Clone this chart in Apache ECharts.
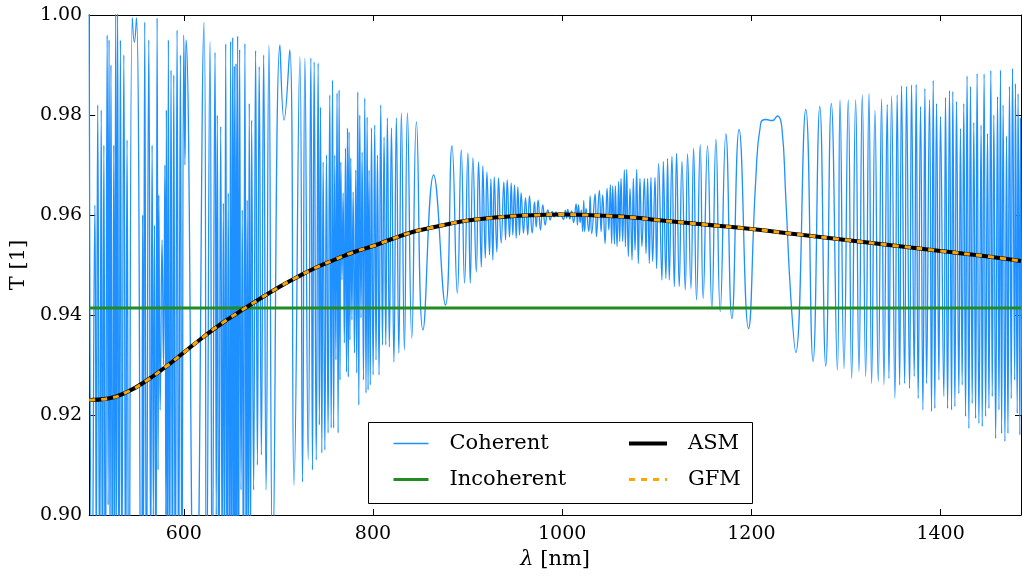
<!DOCTYPE html>
<html><head><meta charset="utf-8">
<script src="https://cdn.jsdelivr.net/npm/echarts@6/dist/echarts.min.js"></script>
<style>html,body{margin:0;padding:0;background:#fff}#c{width:1022px;height:581px}</style>
</head><body><div id="c"></div>
<script>
// ---- data ----
const xTicks = [600, 800, 1000, 1200, 1400];
const yTicks = [0.90, 0.92, 0.94, 0.96, 0.98, 1.00];

const asmWavelength = [500,520,540,560,580,600,620,640,660,680,700,720,740,760,780,800,820,840,860,880,900,925,950,975,1000,1025,1050,1075,1100,1150,1200,1250,1300,1350,1400,1450,1485];
const asmT = [0.9230,0.9233,0.9246,0.9268,0.9295,0.9325,0.9355,0.9383,0.9408,0.9432,0.9455,0.9476,0.9495,0.9511,0.9526,0.9538,0.9552,0.9565,0.9574,0.9582,0.9589,0.9594,0.9598,0.9600,0.9601,0.9600,0.9598,0.9595,0.9590,0.9581,0.9572,0.9561,0.9550,0.9539,0.9528,0.9517,0.9508];
const gfmWavelength = asmWavelength;
const gfmT = [0.9230,0.9233,0.9246,0.9268,0.9295,0.9325,0.9355,0.9383,0.9408,0.9432,0.9455,0.9476,0.9495,0.9511,0.9526,0.9538,0.9552,0.9565,0.9574,0.9582,0.9589,0.9594,0.9598,0.9600,0.9601,0.9600,0.9598,0.9595,0.9590,0.9581,0.9572,0.9561,0.9550,0.9539,0.9528,0.9517,0.9508];
const incoherentWavelength = [500, 1485];
const incoherentT = [0.9414, 0.9414];

// Coherent: local extrema [wavelength nm, T]
const coherent500to710 = [
[500,1.003],[503,0.880],[506,0.962],[507.5,0.890],[509,0.982],[511,0.885],[512.7,0.981],[514,0.880],[515.5,0.974],[517,0.875],
[519,0.996],[520,0.902],[521,0.995],[522,0.890],[523,0.990],[524.5,0.880],[526,0.974],[527,0.880],[528,1.002],[529,0.895],
[530,1.002],[531.5,0.880],[533,0.995],[534.5,0.885],[536.6,0.992],[538.5,0.880],[540,0.975],[542,0.870],[545.5,0.9994],[547.7,0.9946],
[550,0.9994],[555,0.870],[556.5,0.960],[557.3,0.890],[558.7,0.9986],[560.5,0.880],[563,0.995],[565,0.890],[566.5,0.974],[567.8,0.900],
[569,0.958],[570.5,0.880],[571.8,0.9994],[572.8,0.909],[573.6,0.964],[575,0.921],[577,0.955],[578.5,0.930],[580,0.970],[581,0.900],
[581.6,0.981],[582.7,0.880],[583.7,0.995],[585,0.880],[586.5,0.989],[588,0.880],[589.4,0.988],[591,0.880],[592.9,0.997],[594.5,0.880],
[596.4,0.992],[598,0.880],[600,0.996],[601.2,0.970],[602.4,0.995],[612,0.860],[621.4,0.9985],[624,0.880],[627.7,0.9947],[630,0.880],
[633,0.9925],[634.3,0.900],[635.4,0.980],[637,0.880],[639,0.9777],[640.5,0.890],[641.8,0.9624],[643,0.880],[644.3,0.9942],[645.7,0.880],
[647,0.9644],[648.3,0.870],[649.5,0.9947],[650.5,0.880],[651.7,0.9955],[652.6,0.870],[653.4,0.9898],[654.3,0.880],[655.2,0.9903],[656,0.870],
[656.9,0.9958],[658,0.880],[659,0.9931],[660.5,0.905],[661.8,0.961],[663,0.880],[664.6,0.9943],[666,0.880],[667,0.963],[668.2,0.890],
[669.2,0.9823],[670.5,0.890],[671.7,0.979],[673.8,0.905],[675.9,0.9929],[677.8,0.910],[679.7,0.9897],[682,0.912],[684.4,0.992],[687,0.905],
[690,0.994],[694,0.890],[701.6,0.994],[706,0.979],[712,0.993]
];
const coherent710to1000 = [
[716.5,0.906],[722.7,0.9916],[725.5,0.9066],[728,0.9914],[731.5,0.911],[734.3,0.9914],[736,0.909],[737.8,0.9906],[740,0.911],[742,0.9904],
[743.3,0.918],[744.5,0.9816],[745.9,0.9124],[747.3,0.9706],[749.1,0.913],[750.8,0.972],[752.5,0.9164],[754.3,0.984],[755.8,0.9174],[757.2,0.987],
[758.4,0.9174],[759.6,0.972],[760.8,0.931],[762,0.9844],[763.1,0.9164],[764.2,0.985],[765.1,0.927],[766,0.9706],[767.2,0.947],[768.4,0.9644],
[769.7,0.9344],[770.9,0.9734],[772,0.9286],[773,0.9774],[773.9,0.9276],[774.7,0.9766],[775.6,0.935],[776.5,0.9714],[777.7,0.939],[779,0.9646],
[780.4,0.9324],[781.8,0.969],[782.8,0.9284],[783.9,0.9846],[785,0.922],[786,0.980],[787.3,0.9394],[788.5,0.9726],[789.9,0.927],[791.3,0.9834],
[792.6,0.9244],[793.8,0.9796],[794.8,0.925],[795.8,0.969],[797.1,0.926],[798.4,0.9774],[800.1,0.928],[801.8,0.978],[803.2,0.931],[804.7,0.972],
[806.4,0.928],[808.2,0.982],[810,0.934],[811.7,0.9756],[813.5,0.934],[815.2,0.9794],[817.3,0.9336],[819.5,0.9774],[822.1,0.9306],[824.7,0.9794],
[827.3,0.9324],[830,0.9804],[833.2,0.933],[836.4,0.9804],[841,0.9354],[845.9,0.9786],[852.8,0.937],[864.1,0.968],[876.6,0.942],[883.5,0.9738],
[889.1,0.9444],[893.3,0.973],[896.8,0.9464],[900.3,0.9724],[902.8,0.9464],[905.6,0.9714],[909.2,0.9486],[911.6,0.9706],[914.5,0.9496],[916.1,0.9698],
[918.7,0.9514],[920.4,0.9686],[923.2,0.952],[924.6,0.9672],[926.7,0.951],[928.2,0.9676],[930.9,0.9526],[932.7,0.9674],[935.5,0.9544],[938.3,0.9666],
[940.1,0.955],[941.9,0.967],[944.3,0.9556],[946.1,0.9664],[947.8,0.956],[949.6,0.966],[951.4,0.9554],[953.1,0.9656],[954.9,0.956],[956.6,0.9644],
[959.1,0.9564],[961.2,0.9634],[963.6,0.956],[965.4,0.9638],[968.3,0.9564],[970.7,0.9626],[972.5,0.9576],[974.6,0.963],[977,0.957],[979.5,0.962],
[982,0.958],[984.8,0.961],[987.3,0.959],[989.5,0.9607],[991.5,0.9596],[993.5,0.9606],[995.5,0.9597],[997.5,0.9604],[999.5,0.9598]
];
const coherent1000to1200 = [
[1001.3,0.9591],[1003.4,0.9609],[1004.8,0.9594],[1005.9,0.9611],[1008,0.9592],[1010,0.9608],[1012,0.9585],[1014.7,0.9622],[1016.1,0.958],[1017.2,0.962],
[1019,0.9585],[1020.2,0.961],[1021.7,0.9567],[1022.8,0.9629],[1023.8,0.9567],[1025.2,0.9613],[1028.1,0.9567],[1029.5,0.9638],[1031.2,0.9563],[1034.8,0.9642],
[1036.2,0.9557],[1039.3,0.9649],[1041.1,0.9567],[1042.8,0.964],[1045.3,0.9543],[1047.4,0.9653],[1049.3,0.957],[1050.9,0.966],[1052.3,0.9543],[1053.4,0.9658],
[1055.2,0.9542],[1056.2,0.9658],[1058,0.9537],[1059.7,0.9667],[1060.8,0.9547],[1062.2,0.9673],[1063.9,0.9547],[1065.7,0.969],[1066.8,0.9537],[1068.2,0.9691],
[1069.9,0.9517],[1071.7,0.9653],[1073.8,0.951],[1075.2,0.9673],[1077,0.953],[1078.7,0.9691],[1080.5,0.9503],[1082.2,0.9673],[1084.3,0.9537],[1086.8,0.9673],
[1088.6,0.9523],[1090.3,0.9673],[1092.1,0.9503],[1093.8,0.9675],[1095.6,0.9507],[1098.1,0.9675],[1099.8,0.9493],[1101.9,0.9703],[1105.4,0.947],[1106.9,0.9707],
[1109.6,0.9473],[1111.4,0.9713],[1113.2,0.947],[1116,0.9717],[1118.5,0.9457],[1120.9,0.9723],[1123.7,0.9457],[1126.6,0.9707],[1130.1,0.945],[1132.5,0.9722],
[1136.1,0.9453],[1138.9,0.9733],[1142,0.943],[1145.9,0.974],[1149,0.9433],[1153.6,0.9738],[1158.2,0.9413],[1162.5,0.9751],[1167,0.9407],[1173,0.9762],
[1179.4,0.9393],[1187,0.9771],[1196.9,0.9373]
];
const coherent1200to1485 = [
[1204.6,0.967],[1209.9,0.9784],[1215.2,0.9791],[1222.2,0.9789],[1227.5,0.9798],[1232.1,0.9777],[1236.3,0.9637],[1241.6,0.9437],[1246.9,0.9325],[1257.5,0.9811],
[1265.2,0.9307],[1272.3,0.9817],[1278.6,0.9298],[1284.5,0.9823],[1290.9,0.929],[1293.7,0.983],[1297.9,0.9293],[1302.4,0.983],[1306,0.9273],[1310.2,0.983],
[1313.7,0.9287],[1317.2,0.984],[1320.8,0.9277],[1324.3,0.9843],[1327.1,0.9263],[1330.6,0.9809],[1334.1,0.9267],[1337.6,0.9832],[1340.1,0.926],[1343.6,0.9821],
[1345.4,0.9273],[1348.2,0.9838],[1351.7,0.9233],[1354.1,0.984],[1356.7,0.926],[1358.7,0.9858],[1362,0.9263],[1364,0.9857],[1367.2,0.9253],[1369.3,0.986],
[1372.1,0.9277],[1374.2,0.9861],[1376.3,0.9233],[1378.8,0.9817],[1381.3,0.921],[1383.4,0.9853],[1385.2,0.9263],[1388.3,0.9831],[1390.4,0.9207],[1392.2,0.9869],
[1393.9,0.9213],[1395.7,0.9823],[1398.2,0.927],[1399.9,0.9797],[1403.4,0.9237],[1405.2,0.9835],[1407.4,0.9213],[1409.4,0.9849],[1411.6,0.921],[1412.9,0.9847],
[1415.1,0.9217],[1416.8,0.9827],[1419.3,0.9243],[1421,0.9773],[1422.8,0.926],[1424.5,0.9823],[1426.4,0.9197],[1428,0.9878],[1429.9,0.9173],[1431.6,0.9857],
[1433.4,0.9223],[1435.1,0.9785],[1437,0.9193],[1438.6,0.9883],[1440.5,0.9183],[1442.8,0.978],[1444,0.9177],[1446,0.9882],[1447.6,0.9197],[1449.6,0.9763],
[1451.1,0.9213],[1453.1,0.9889],[1454.6,0.9237],[1456.3,0.980],[1458.2,0.9153],[1460.2,0.9837],[1461.7,0.921],[1463.3,0.989],[1464.5,0.9163],[1466.1,0.982],
[1468,0.9147],[1469.7,0.9758],[1471.2,0.9163],[1472.8,0.9857],[1474.7,0.9233],[1476,0.9893],[1478.3,0.927],[1479.1,0.9863],[1481,0.9203],[1481.9,0.9843],
[1483.8,0.916],[1484.4,0.9794],[1486,0.920]
];

// ---- chart ----
const FONT = 'DejaVu Serif';
const zip = (xs, ys) => xs.map((x, i) => [x, ys[i]]);
const coherentData = [].concat(coherent500to710, coherent710to1000, coherent1000to1200, coherent1200to1485);

const chart = echarts.init(document.getElementById('c'), null, {renderer: 'canvas'});
const axisLineStyle = {color: '#000', width: 1};
const baseX = {
  type: 'value', min: 500, max: 1485,
  axisLine: {show: true, onZero: false, lineStyle: axisLineStyle},
  axisTick: {show: true, inside: true, length: 6, customValues: xTicks, lineStyle: {color: '#000', width: 1}},
  splitLine: {show: false}
};
const baseY = {
  type: 'value', min: 0.9, max: 1.0, interval: 0.02,
  axisLine: {show: true, onZero: false, lineStyle: axisLineStyle},
  axisTick: {show: true, inside: true, length: 6, lineStyle: {color: '#000', width: 1}},
  splitLine: {show: false}
};
const legendText = {fontFamily: FONT, fontSize: 21, color: '#000', padding: [0, 0, 0, 16]};
chart.setOption({
  animation: false,
  backgroundColor: '#fff',
  grid: {left: 89, right: 1, top: 15, bottom: 66, containLabel: false},
  xAxis: [
    Object.assign({}, baseX, {
      position: 'bottom',
      axisLabel: {customValues: xTicks, fontFamily: FONT, fontSize: 19, color: '#000', margin: 10,
        formatter: v => String(Math.round(v))},
      name: '{i|λ} [nm]', nameLocation: 'middle', nameGap: 34,
      nameTextStyle: {fontFamily: FONT, fontSize: 21, color: '#000', rich: {i: {fontFamily: FONT, fontSize: 21, fontStyle: 'italic', color: '#000'}}}
    }),
    Object.assign({}, baseX, {position: 'top', axisLabel: {show: false}})
  ],
  yAxis: [
    Object.assign({}, baseY, {
      position: 'left',
      axisLabel: {fontFamily: FONT, fontSize: 19, color: '#000', margin: 7, showMinLabel: true, showMaxLabel: true,
        formatter: v => v.toFixed(2)},
      name: 'T [1]', nameLocation: 'middle', nameGap: 60,
      nameTextStyle: {fontFamily: FONT, fontSize: 21, color: '#000'}
    }),
    Object.assign({}, baseY, {position: 'right', axisLabel: {show: false}})
  ],
  legend: [
    {data: [
       {name: 'Coherent', itemStyle: {opacity: 0}, lineStyle: {width: 1.3, color: '#1E90FF'}},
       {name: 'Incoherent', itemStyle: {opacity: 0}, lineStyle: {width: 3}}],
     orient: 'vertical', left: 387, top: 428, itemWidth: 35, itemHeight: 14, itemGap: 15,
     selectedMode: false, textStyle: legendText},
    {data: [
       {name: 'ASM', itemStyle: {opacity: 0}, lineStyle: {width: 4}},
       {name: 'GFM', itemStyle: {opacity: 0}, lineStyle: {width: 3, type: [6, 6]}}],
     orient: 'vertical', left: 622, top: 428, itemWidth: 38, itemHeight: 14, itemGap: 15,
     selectedMode: false, textStyle: legendText}
  ],
  graphic: [
    {type: 'rect', left: 368, top: 422, z: 3, shape: {width: 384, height: 81},
     style: {fill: '#fff', stroke: '#000', lineWidth: 1}}
  ],
  series: [
    {name: 'Coherent', type: 'line', data: coherentData, symbol: 'none', smooth: true,
     lineStyle: {color: '#1E90FF', width: 1.3}, itemStyle: {color: '#1E90FF'}, z: 2},
    {name: 'Incoherent', type: 'line', data: zip(incoherentWavelength, incoherentT), symbol: 'none',
     lineStyle: {color: '#228B22', width: 3}, itemStyle: {color: '#228B22'}, z: 2},
    {name: 'ASM', type: 'line', data: zip(asmWavelength, asmT), symbol: 'none', smooth: true,
     lineStyle: {color: '#000', width: 4}, itemStyle: {color: '#000'}, z: 2},
    {name: 'GFM', type: 'line', data: zip(gfmWavelength, gfmT), symbol: 'none', smooth: true,
     lineStyle: {color: '#FFA500', width: 3, type: [6, 6]}, itemStyle: {color: '#FFA500'}, z: 2}
  ]
});
</script>
</body></html>
